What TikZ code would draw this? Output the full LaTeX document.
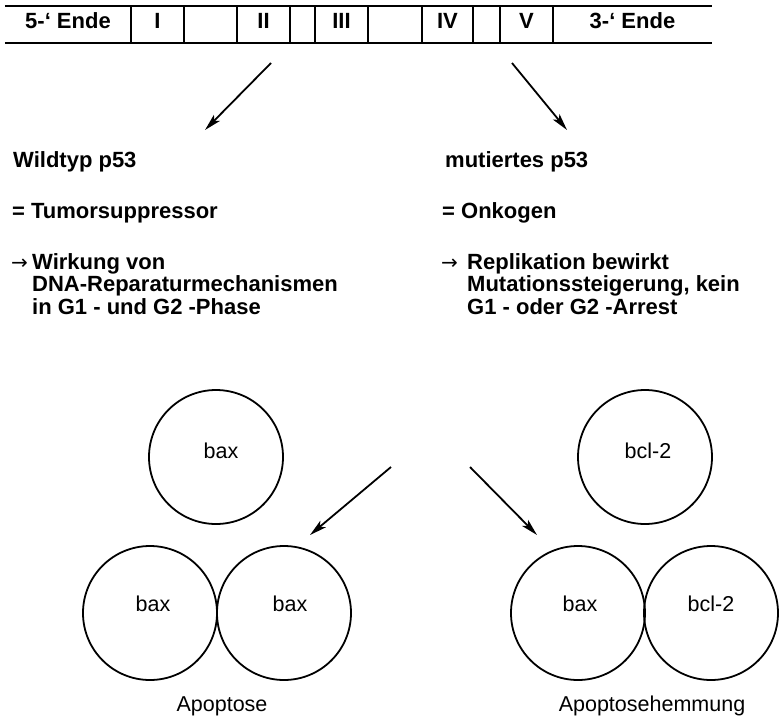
\documentclass[tikz,border=0pt]{standalone}
\usepackage{fontspec}
\setmainfont{Liberation Sans}
\newfontfamily\arrowfont{DejaVu Sans}
\usetikzlibrary{arrows.meta}
\tikzset{
  bartext/.style={font=\fontsize{22}{22}\selectfont\bfseries, inner sep=0pt, minimum height=36.5pt, text height=16pt, text depth=8pt},
  boldtext/.style={font=\fontsize{22}{22}\selectfont\bfseries, inner sep=0pt, anchor=base west},
  arrowsym/.style={font=\fontsize{20}{20}\selectfont\arrowfont, inner sep=0pt, anchor=base west},
  plaintext/.style={font=\fontsize{21.5}{22}\selectfont, inner sep=0pt},
  barline/.style={line width=1.8pt},
  circ/.style={draw, circle, line width=1.8pt, minimum size=134pt, inner sep=0pt},
  arr/.style={line width=1.8pt, -{Stealth[length=17pt,width=8.5pt,inset=4pt]}},
}
\begin{document}
\begin{tikzpicture}[x=1pt,y=-1pt]
\useasboundingbox (0,0) rectangle (779,718);
% bar cells
\node[bartext, minimum width=126pt] (c1) at (68,24.75) {5-‘ Ende};
\node[bartext, minimum width=53pt] (c2) at (157.5,24.75) {I};
\node[bartext, minimum width=53pt] (c3) at (210.5,24.75) {};
\node[bartext, minimum width=53pt] (c4) at (263.5,24.75) {II};
\node[bartext, minimum width=25pt] (c5) at (302.5,24.75) {};
\node[bartext, minimum width=53pt] (c6) at (341.5,24.75) {III};
\node[bartext, minimum width=54pt] (c7) at (395,24.75) {};
\node[bartext, minimum width=51pt] (c8) at (447.5,24.75) {IV};
\node[bartext, minimum width=27pt] (c9) at (486.5,24.75) {};
\node[bartext, minimum width=53pt] (c10) at (526.5,24.75) {V};
\node[bartext, minimum width=159pt] (c11) at (632.5,24.75) {3-‘ Ende};
\draw[barline] (c1.north west) -- (c11.north east);
\draw[barline] (c1.south west) -- (c11.south east);
\foreach \i in {1,...,10} {\draw[barline] (c\i.north east) -- (c\i.south east);}
% upper arrows
\coordinate (a1s) at (271,63);
\coordinate (a1e) at (205,130);
\coordinate (a2s) at (512,63);
\coordinate (a2e) at (567,130);
\draw[arr] (a1s) -- (a1e);
\draw[arr] (a2s) -- (a2e);
% left text block
\node[boldtext] (wt) at (13,167) {Wildtyp p53};
\node[boldtext] (ts) at (12,218) {= Tumorsuppressor};
\node[arrowsym] (la) at (11,269) {→};
\node[boldtext] (l1) at (32,269) {Wirkung von};
\node[boldtext] (l2) at (32,291.5) {DNA-Reparaturmechanismen};
\node[boldtext] (l3) at (32,314) {in G1 - und G2 -Phase};
% right text block
\node[boldtext] (mt) at (445,167) {mutiertes p53};
\node[boldtext] (ok) at (442,218) {= Onkogen};
\node[arrowsym] (ra) at (441,269) {→};
\node[boldtext] (r1) at (467,269) {Replikation bewirkt};
\node[boldtext] (r2) at (467,291.5) {Mutationssteigerung, kein};
\node[boldtext] (r3) at (467,314) {G1 - oder G2 -Arrest};
% circles
\node[circ] (bt) at (216,457) {};
\node[plaintext] (btl) at (221,451) {bax};
\node[circ] (ct) at (645,457) {};
\node[plaintext] (ctl) at (648,451) {bcl-2};
\node[circ] (b1) at (150,613) {};
\node[plaintext] (b1l) at (153,604) {bax};
\node[circ] (b2) at (284,613) {};
\node[plaintext] (b2l) at (290,604) {bax};
\node[circ] (b3) at (578,613) {};
\node[plaintext] (b3l) at (580,604) {bax};
\node[circ] (b4) at (711,613) {};
\node[plaintext] (b4l) at (711,604) {bcl-2};
% lower arrows
\coordinate (a3s) at (391,467);
\coordinate (a3e) at (310,535);
\coordinate (a4s) at (470,467);
\coordinate (a4e) at (537,535);
\draw[arr] (a3s) -- (a3e);
\draw[arr] (a4s) -- (a4e);
% captions
\node[plaintext, anchor=base] (ap) at (222,711) {Apoptose};
\node[plaintext, anchor=base] (ah) at (652,711) {Apoptosehemmung};
\end{tikzpicture}
\end{document}
